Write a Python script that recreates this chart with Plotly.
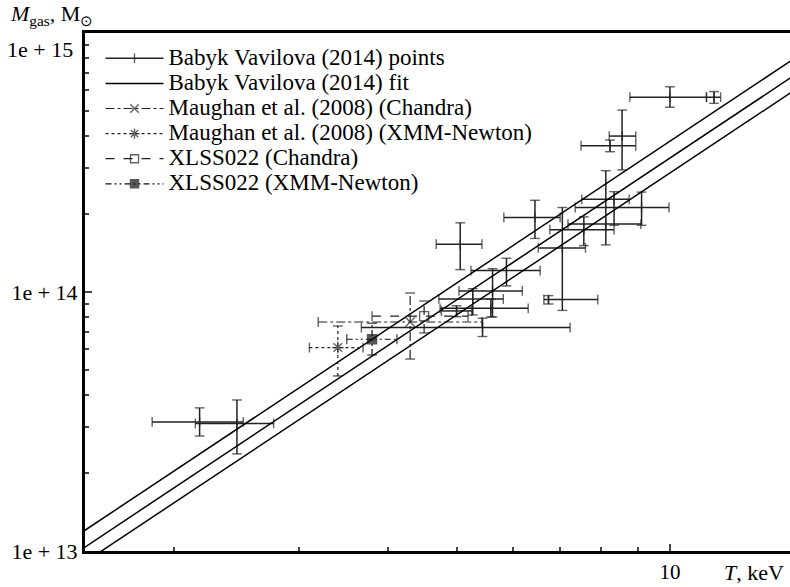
import numpy as np
import plotly.graph_objects as go

# ---------------- data (T in keV, M_gas in solar masses) ----------------
babyk_T    = [2.17, 2.45, 5.06, 6.45, 5.88, 5.62, 5.27, 5.59, 5.00, 5.44, 6.74, 7.05, 7.56, 8.12, 8.34, 9.12, 8.56, 8.23, 10.0, 11.54]
babyk_T_lo = [1.86, 2.14, 4.68, 5.83, 5.24, 5.04, 4.72, 4.74, 4.76, 3.67, 6.64, 6.52, 6.77, 7.18, 7.51, 7.35, 8.21, 7.49, 8.78, 11.26]
babyk_T_hi = [2.50, 2.76, 5.43, 7.00, 6.56, 6.19, 5.82, 6.31, 5.25, 7.23, 7.91, 7.60, 8.34, 9.10, 8.76, 9.97, 8.95, 8.95, 11.26, 11.79]
babyk_M    = [3.15e13, 3.11e13, 1.53e14, 1.94e14, 1.21e14, 1.01e14, 9.40e13, 8.65e13, 8.45e13, 7.29e13,
              9.35e13, 1.48e14, 1.74e14, 1.83e14, 2.28e14, 2.12e14, 4.00e14, 3.67e14, 5.65e14, 5.65e14]
babyk_M_lo = [2.78e13, 2.37e13, 1.22e14, 1.61e14, 1.055e14, 8.01e13, 8.15e13, 8.01e13, 8.03e13, 6.73e13,
              8.99e13, 8.49e13, 1.51e14, 1.52e14, 1.81e14, 1.81e14, 2.96e14, 3.48e14, 5.17e14, 5.35e14]
babyk_M_hi = [3.57e13, 3.83e13, 1.85e14, 2.26e14, 1.35e14, 1.23e14, 1.03e14, 9.37e13, 8.85e13, 7.92e13,
              9.68e13, 2.12e14, 1.95e14, 2.94e14, 2.44e14, 2.43e14, 5.04e14, 3.86e14, 6.20e14, 5.94e14]

maughan_chandra_T = [4.30]; maughan_chandra_T_lo = [3.19]; maughan_chandra_T_hi = [5.43]
maughan_chandra_M = [7.66e13]; maughan_chandra_M_lo = [5.51e13]; maughan_chandra_M_hi = [9.91e13]

maughan_xmm_T = [3.40]; maughan_xmm_T_lo = [3.10]; maughan_xmm_T_hi = [3.69]
maughan_xmm_M = [6.10e13]; maughan_xmm_M_lo = [4.74e13]; maughan_xmm_M_hi = [7.39e13]

xlss_chandra_T = [4.50]; xlss_chandra_T_lo = [3.80]; xlss_chandra_T_hi = [5.19]
xlss_chandra_M = [8.07e13]; xlss_chandra_M_lo = [6.95e13]; xlss_chandra_M_hi = [9.23e13]

xlss_xmm_T = [3.80]; xlss_xmm_T_lo = [3.50]; xlss_xmm_T_hi = [4.12]
xlss_xmm_M = [6.57e13]; xlss_xmm_M_lo = [5.71e13]; xlss_xmm_M_hi = [7.57e13]

# power-law fit M = norm * (T / 10 keV)^slope, with upper / lower bounds
fit_slope = 1.82
fit_norm = 3.29e14
fit_norm_upper = 3.82e14
fit_norm_lower = 2.88e14
fit_T = [1.3, 16.0]

y_tickvals = [1e13, 1e14, 1e15]
y_ticktext = ["1e + 13", "1e + 14", ""]
y_top_label = "1e + 15"
x_tickvals = [10]
x_ticktext = ["10"]

FONT = "Liberation Serif, Times New Roman, serif"
LEG_PX = 23


def leg(name):
    return '<span style="font-size:%dpx">%s</span>' % (LEG_PX, name)


def bars_trace(T, Tlo, Thi, M, Mlo, Mhi, name, symbol, msize, dash, lw, color):
    xs, ys, syms, sizes = [], [], [], []
    for t, tl, th, m, ml, mh in zip(T, Tlo, Thi, M, Mlo, Mhi):
        xs += [t, None, tl, th, None, t, t, None]
        ys += [m, None, m, m, None, ml, mh, None]
        syms += [symbol, symbol, "line-ns", "line-ns", symbol, "line-ew", "line-ew", symbol]
        sizes += [msize, msize, 7, 7, msize, 7, 7, msize]
    return go.Scatter(
        x=xs, y=ys, mode="lines+markers", name=leg(name), connectgaps=False,
        line=dict(color=color, width=lw, dash=dash),
        marker=dict(symbol=syms, size=sizes, color=color,
                    line=dict(color=color, width=1.4)),
    )


fig = go.Figure()

fig.add_trace(bars_trace(babyk_T, babyk_T_lo, babyk_T_hi, babyk_M, babyk_M_lo, babyk_M_hi,
                         "Babyk Vavilova (2014) points", "line-ns", 7, "solid", 1.5, "#222"))

fit_T_arr = np.array(fit_T)
fig.add_trace(go.Scatter(x=fit_T, y=fit_norm * (fit_T_arr / 10) ** fit_slope, mode="lines",
                         name=leg("Babyk Vavilova (2014) fit"), line=dict(color="black", width=1.5)))
fig.add_trace(go.Scatter(x=fit_T, y=fit_norm_upper * (fit_T_arr / 10) ** fit_slope, mode="lines",
                         showlegend=False, line=dict(color="black", width=1.5)))
fig.add_trace(go.Scatter(x=fit_T, y=fit_norm_lower * (fit_T_arr / 10) ** fit_slope, mode="lines",
                         showlegend=False, line=dict(color="black", width=1.5)))

fig.add_trace(bars_trace(maughan_chandra_T, maughan_chandra_T_lo, maughan_chandra_T_hi,
                         maughan_chandra_M, maughan_chandra_M_lo, maughan_chandra_M_hi,
                         "Maughan et al. (2008) (Chandra)", "x-thin", 10, "dashdot", 1.2, "#222"))
fig.add_trace(bars_trace(maughan_xmm_T, maughan_xmm_T_lo, maughan_xmm_T_hi,
                         maughan_xmm_M, maughan_xmm_M_lo, maughan_xmm_M_hi,
                         "Maughan et al. (2008) (XMM-Newton)", "asterisk", 10, "dot", 1.2, "#222"))
fig.add_trace(bars_trace(xlss_chandra_T, xlss_chandra_T_lo, xlss_chandra_T_hi,
                         xlss_chandra_M, xlss_chandra_M_lo, xlss_chandra_M_hi,
                         "XLSS022 (Chandra)", "square-open", 9, "dash", 1.2, "#222"))
fig.add_trace(bars_trace(xlss_xmm_T, xlss_xmm_T_lo, xlss_xmm_T_hi,
                         xlss_xmm_M, xlss_xmm_M_lo, xlss_xmm_M_hi,
                         "XLSS022 (XMM-Newton)", "square", 9, "6px,3px,2px,3px,2px,3px", 1.2, "#111"))

fig.update_layout(
    width=790, height=587,
    margin=dict(l=85, r=0, t=33, b=36),
    paper_bgcolor="white", plot_bgcolor="white",
    font=dict(family=FONT, size=20, color="black"),
    showlegend=True,
    legend=dict(x=0.022, y=0.985, xanchor="left", yanchor="top", bgcolor="rgba(0,0,0,0)",
                font=dict(family=FONT, size=17), itemwidth=58, tracegroupgap=0),
    xaxis=dict(type="log", range=[np.log10(1.4955), np.log10(14.77)],
               tickvals=x_tickvals, ticktext=x_ticktext, ticks="inside", ticklen=7, tickwidth=1.5,
               minor=dict(tickvals=[2, 3, 4, 5, 6, 7, 8, 9], ticks="inside", ticklen=4, tickwidth=1.5),
               showline=True, linewidth=3, linecolor="black", mirror=True, showgrid=False, zeroline=False,
               tickfont=dict(family=FONT, size=21)),
    yaxis=dict(type="log", range=[13, 15],
               tickvals=y_tickvals, ticktext=y_ticktext, ticks="inside", ticklen=7, tickwidth=1.5,
               minor=dict(tickvals=[k * 1e13 for k in range(2, 10)] + [k * 1e14 for k in range(2, 10)],
                          ticks="inside", ticklen=4, tickwidth=1.5),
               showline=True, linewidth=3, linecolor="black", mirror=False, showgrid=False, zeroline=False,
               tickfont=dict(family=FONT, size=22)),
    annotations=[
        dict(text=y_top_label, xref="paper", yref="paper",
             x=-0.014, y=0.969, xanchor="right", yanchor="middle", showarrow=False,
             font=dict(family=FONT, size=22)),
        dict(text="<i>M</i><sub>gas</sub>, M<sub>⊙</sub>", xref="paper", yref="paper",
             x=-0.109, y=1.035, xanchor="left", yanchor="middle", showarrow=False,
             font=dict(family=FONT, size=22)),
        dict(text="<i>T</i>, keV", xref="paper", yref="paper",
             x=0.9035, y=-0.042, xanchor="left", yanchor="middle", showarrow=False,
             font=dict(family=FONT, size=22)),
    ],
)

fig.write_html("out.html")
